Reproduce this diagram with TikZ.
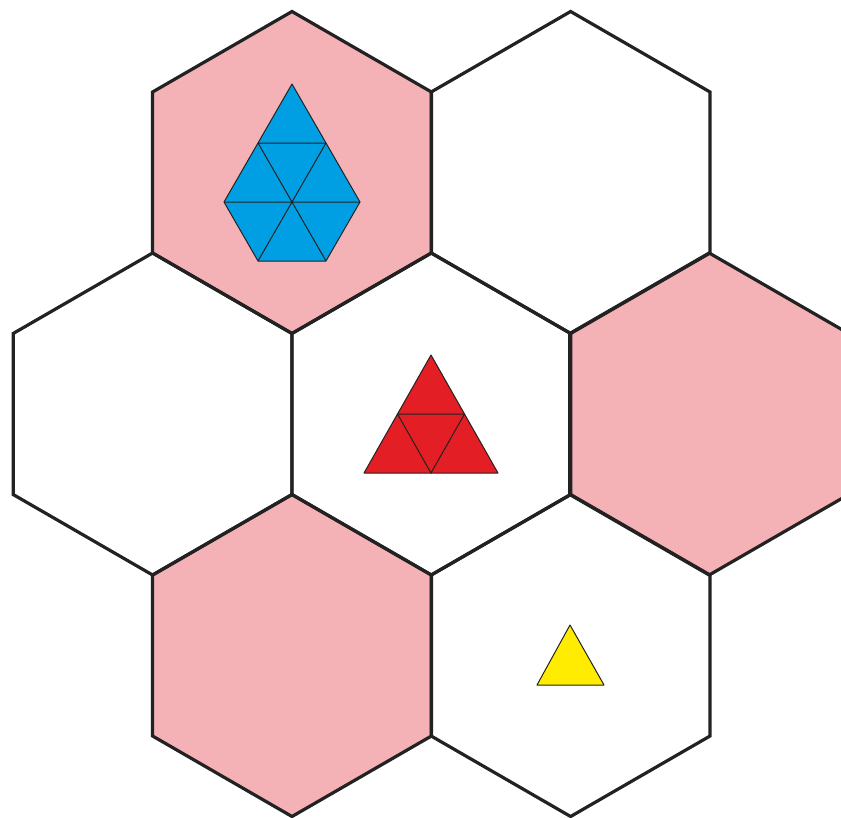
\documentclass[tikz,border=0pt]{standalone}
\definecolor{hexpink}{HTML}{F4B2B6}
\definecolor{hexline}{HTML}{222222}
\definecolor{tblue}{HTML}{009FE3}
\definecolor{tred}{HTML}{E31E25}
\definecolor{tyellow}{HTML}{FFEC00}
\tikzset{
  hexcell/.style={draw=hexline,line width=3.2pt,line join=miter},
  piece/.style={draw=hexline,line width=1pt,line join=round},
  inner/.style={draw=hexline,line width=1pt}
}
\newcommand{\hexpath}[2]{[shift={(#1,#2)}] (90:161) -- (150:161) -- (210:161) -- (270:161) -- (330:161) -- (30:161) -- cycle}
\begin{document}
\begin{tikzpicture}[x=1pt,y=-1pt]
\useasboundingbox (0,0) rectangle (841,817);
\begin{scope}
\clip (0,0) rectangle (841,817);
\fill[white] (0,0) rectangle (841,817);
% fills
\fill[hexpink] \hexpath{292}{172.5};
\fill[hexpink] \hexpath{709.2}{414};
\fill[hexpink] \hexpath{292}{655.5};
% outlines
\draw[hexcell] \hexpath{292}{172.5};
\draw[hexcell] \hexpath{570.6}{172.5};
\draw[hexcell] \hexpath{152.6}{414};
\draw[hexcell] \hexpath{431.3}{414};
\draw[hexcell] \hexpath{709.2}{414};
\draw[hexcell] \hexpath{292}{655.5};
\draw[hexcell] \hexpath{570.6}{655.5};
\end{scope}
% blue piece
\coordinate (ba) at (292,84);
\coordinate (btl) at (258,143);
\coordinate (btr) at (326,143);
\coordinate (bl) at (224,202);
\coordinate (bc) at (292,202);
\coordinate (br) at (360,202);
\coordinate (bbl) at (258,261);
\coordinate (bbr) at (326,261);
\fill[tblue] (ba) -- (btr) -- (br) -- (bbr) -- (bbl) -- (bl) -- (btl) -- cycle;
\draw[inner] (btl) -- (btr) (bl) -- (br) (btl) -- (bbr) (btr) -- (bbl);
\draw[piece] (ba) -- (btr) -- (br) -- (bbr) -- (bbl) -- (bl) -- (btl) -- cycle;
% red piece
\coordinate (ra) at (431,355);
\coordinate (rl) at (364,473);
\coordinate (rr) at (498,473);
\coordinate (rml) at (397.5,414);
\coordinate (rmr) at (464.5,414);
\coordinate (rmb) at (431,473);
\fill[tred] (ra) -- (rr) -- (rl) -- cycle;
\draw[inner] (rml) -- (rmr) -- (rmb) -- cycle;
\draw[piece] (ra) -- (rr) -- (rl) -- cycle;
% yellow piece
\coordinate (ya) at (570,625);
\coordinate (yl) at (537,685);
\coordinate (yr) at (604,685);
\fill[tyellow] (ya) -- (yr) -- (yl) -- cycle;
\draw[piece] (ya) -- (yr) -- (yl) -- cycle;
\end{tikzpicture}
\end{document}
